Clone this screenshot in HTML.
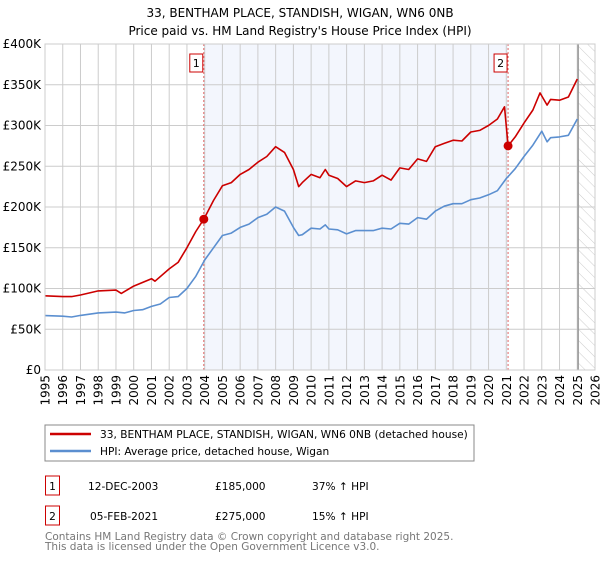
<!DOCTYPE html>
<html><head><meta charset="utf-8"><style>
body{margin:0;background:#fff;font-family:"DejaVu Sans","Liberation Sans",sans-serif;}
svg text{font-family:"DejaVu Sans","Liberation Sans",sans-serif;}
</style></head><body>
<svg id="c" width="600" height="560" xmlns="http://www.w3.org/2000/svg">
<defs><pattern id="hatch" width="8" height="8" patternUnits="userSpaceOnUse" patternTransform="rotate(-45)"><line x1="0" y1="0" x2="0" y2="8" stroke="#ccc" stroke-width="1"/></pattern></defs>
<text x="300" y="17" text-anchor="middle" font-size="12" fill="#000">33, BENTHAM PLACE, STANDISH, WIGAN, WN6 0NB</text>
<text x="300" y="35" text-anchor="middle" font-size="12" fill="#000">Price paid vs. HM Land Registry's House Price Index (HPI)</text>
<g id="plot"></g>
<rect x="45" y="425" width="429" height="36" fill="#fff" stroke="#888"/>
<line x1="50" y1="434" x2="91" y2="434" stroke="#cc0000" stroke-width="2.5"/>
<text x="100" y="438" font-size="10.6">33, BENTHAM PLACE, STANDISH, WIGAN, WN6 0NB (detached house)</text>
<line x1="50" y1="451" x2="91" y2="451" stroke="#5b8fd0" stroke-width="2.5"/>
<text x="100" y="455" font-size="10.6">HPI: Average price, detached house, Wigan</text>
<g>
<rect x="45.5" y="476" width="14" height="19" fill="#fff" stroke="#cc0000"/>
<text x="52.5" y="490" text-anchor="middle" font-size="10.6">1</text>
<text x="88" y="490" font-size="10.6">12-DEC-2003</text>
<text x="215" y="490" font-size="10.6">£185,000</text>
<text x="312" y="490" font-size="10.6">37% ↑ HPI</text>
</g>
<g>
<rect x="45.5" y="506" width="14" height="19" fill="#fff" stroke="#cc0000"/>
<text x="52.5" y="520" text-anchor="middle" font-size="10.6">2</text>
<text x="90" y="520" font-size="10.6">05-FEB-2021</text>
<text x="215" y="520" font-size="10.6">£275,000</text>
<text x="312" y="520" font-size="10.6">15% ↑ HPI</text>
</g>
<text x="45" y="540" font-size="10.5" fill="#777">Contains HM Land Registry data © Crown copyright and database right 2025.</text>
<text x="45" y="550" font-size="10.5" fill="#777">This data is licensed under the Open Government Licence v3.0.</text>
</svg>
<script>
const hpiYears=[1995,1996,1996.5,1997,1998,1999,1999.5,2000,2000.5,2001,2001.5,2002,2002.5,2003,2003.5,2004,2004.5,2005,2005.5,2006,2006.5,2007,2007.5,2008,2008.5,2009,2009.3,2009.5,2010,2010.5,2010.8,2011,2011.5,2012,2012.5,2013,2013.5,2014,2014.5,2015,2015.5,2016,2016.5,2017,2017.5,2018,2018.5,2019,2019.5,2020,2020.5,2021,2021.5,2022,2022.5,2023,2023.3,2023.5,2024,2024.5,2025];
const hpiValues=[66.7,66,65,67,70,71,70,73,74,78,81,89,90,100,115,135,150,165,168,175,179,187,191,200,195,175,165,166,174,173,178,173,172,167,171,171,171,174,173,180,179,187,185,195,201,204,204,209,211,215,220,235,247,262,276,293,280,285,286,288,308];
const propYears=[1995,1996,1996.5,1997,1998,1999,1999.3,2000,2001,2001.2,2002,2002.5,2003,2003.5,2003.95,2004.5,2005,2005.5,2006,2006.5,2007,2007.5,2008,2008.5,2009,2009.3,2009.5,2010,2010.5,2010.8,2011,2011.5,2012,2012.5,2013,2013.5,2014,2014.5,2015,2015.5,2016,2016.5,2017,2017.5,2018,2018.5,2019,2019.5,2020,2020.5,2020.9,2021.1,2021.5,2022,2022.5,2022.9,2023.3,2023.5,2024,2024.5,2025];
const propValues=[91,90,90,92,97,98,94,103,112,109,124,132,150,170,185,208,226,230,240,246,255,262,274,267,246,225,230,240,236,246,239,235,225,232,230,232,239,233,248,246,259,256,274,278,282,281,292,294,300,308,323,275,286,303,319,340,325,332,331,335,357];
const saleYears=[2003.95,2021.1];
const saleValues=[185,275];
const saleLabels=["1","2"];
const yTicks=[0,50,100,150,200,250,300,350,400];
const yTickLabels=["£0","£50K","£100K","£150K","£200K","£250K","£300K","£350K","£400K"];
const xTicks=[1995,1996,1997,1998,1999,2000,2001,2002,2003,2004,2005,2006,2007,2008,2009,2010,2011,2012,2013,2014,2015,2016,2017,2018,2019,2020,2021,2022,2023,2024,2025,2026];

const L=45,R=595,T=44,B=370;
const xS=y=>L+(y-1995)/(2026-1995)*(R-L);
const yS=v=>B-v/400*(B-T);
const NS="http://www.w3.org/2000/svg";
const g=document.getElementById('plot');
function mk(tag,attrs,parent){const e=document.createElementNS(NS,tag);for(const k in attrs)e.setAttribute(k,attrs[k]);(parent||g).appendChild(e);return e;}

const shade=mk('rect',{x:xS(saleYears[0]),y:T,width:xS(saleYears[1])-xS(saleYears[0]),height:B-T,fill:'#f3f6fd'});


const hat=mk('rect',{x:xS(2025),y:T,width:R-xS(2025),height:B-T,fill:'url(#hatch)'});



yTicks.forEach((v,i)=>{
  const ln=mk('line',{x1:L,x2:R,y1:yS(v),y2:yS(v),stroke:'#ccc','stroke-width':1});
  
  
  const t=mk('text',{x:L-4,y:yS(v)+4,'text-anchor':'end','font-size':12});
  t.textContent=yTickLabels[i];
  
  
});
xTicks.forEach(y=>{
  const ln=mk('line',{x1:xS(y),x2:xS(y),y1:T,y2:B,stroke:'#ccc','stroke-width':1});
  
  
  const t=mk('text',{x:0,y:0,'text-anchor':'end','font-size':12,transform:`translate(${xS(y)+4.5},${B+5}) rotate(-90)`});
  t.textContent=String(y);
  
  
});
const nowLine=mk('line',{x1:xS(2025.05),x2:xS(2025.05),y1:T,y2:B,stroke:'#999','stroke-width':1.5});



saleYears.forEach((y,i)=>{
  const ln=mk('line',{x1:xS(y),x2:xS(y),y1:T,y2:B,stroke:'#e06666','stroke-width':1,'stroke-dasharray':'2,2'});
  
  
});

function path(xs,vs,color,name){
  const d=xs.map((x,i)=>(i?'L':'M')+xS(x).toFixed(1)+','+yS(vs[i]).toFixed(1)).join('');
  const p=mk('path',{d:d,fill:'none',stroke:color,'stroke-width':1.6,'stroke-linejoin':'round'});
  
  
}
path(hpiYears,hpiValues,'#5b8fd0','hpi-line');
path(propYears,propValues,'#cc0000','property-price-line');

saleYears.forEach((y,i)=>{
  const c=mk('circle',{cx:xS(y),cy:yS(saleValues[i]),r:4.5,fill:'#cc0000'});
  
  
  const b=mk('rect',{x:xS(y)-14,y:T+10,width:13,height:18,fill:'#fff',stroke:'#cc0000'});
  
  
  const t=mk('text',{x:xS(y)-7.5,y:T+23,'text-anchor':'middle','font-size':11});
  t.textContent=saleLabels[i];
  
  
});
const frame=mk('rect',{x:L,y:T,width:R-L,height:B-T,fill:'none',stroke:'#ccc'});


</script>
</body></html>
